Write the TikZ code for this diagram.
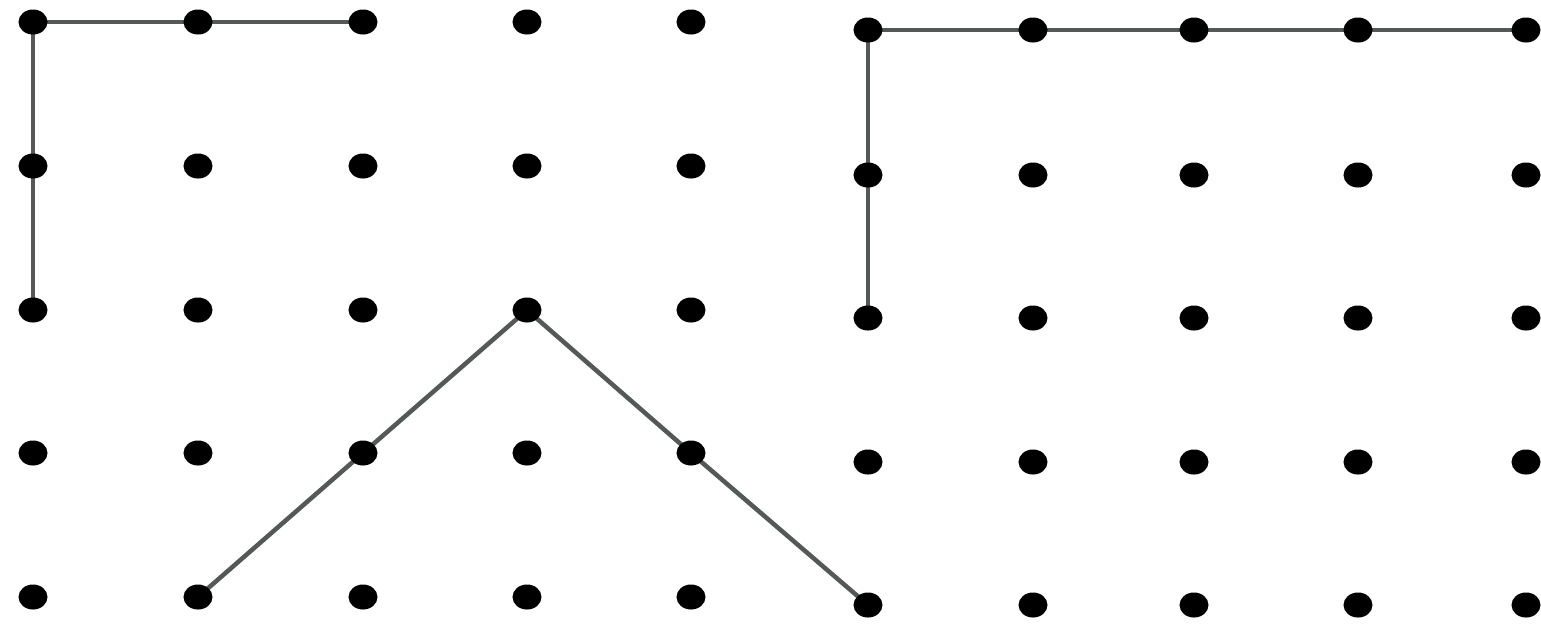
\documentclass[tikz,border=0pt]{standalone}
\usetikzlibrary{shapes.geometric,backgrounds}
\begin{document}
\begin{tikzpicture}[x=0.01cm,y=-0.01cm,
  dot/.style={ellipse,fill=black,draw=none,inner sep=0pt,minimum width=0.29cm,minimum height=0.25cm},
  seg/.style={draw={rgb,255:red,85;green,88;blue,88},line width=0.045cm,line cap=round}]
\useasboundingbox (0,0) rectangle (1541,623);
% left grid
\foreach \c/\x in {1/33,2/198,3/363,4/527,5/691}{
  \foreach \r/\y in {1/22,2/166,3/310,4/453,5/597}{
    \node[dot] (L\c\r) at (\x,\y) {};
  }
}
% right grid
\foreach \c/\x in {1/868,2/1033,3/1194,4/1358,5/1526}{
  \foreach \r/\y in {1/30,2/175,3/318,4/462,5/605}{
    \node[dot] (R\c\r) at (\x,\y) {};
  }
}
\begin{scope}[on background layer]
  \fill[white] (0,0) rectangle (1541,623);
  \draw[seg] (L31.center) -- (L21.center) -- (L11.center) -- (L12.center) -- (L13.center);
  \draw[seg] (L25.center) -- (L34.center) -- (L43.center) -- (L54.center) -- (R15.center);
  \draw[seg] (R51.center) -- (R41.center) -- (R31.center) -- (R21.center) -- (R11.center) -- (R12.center) -- (R13.center);
\end{scope}
\end{tikzpicture}
\end{document}
